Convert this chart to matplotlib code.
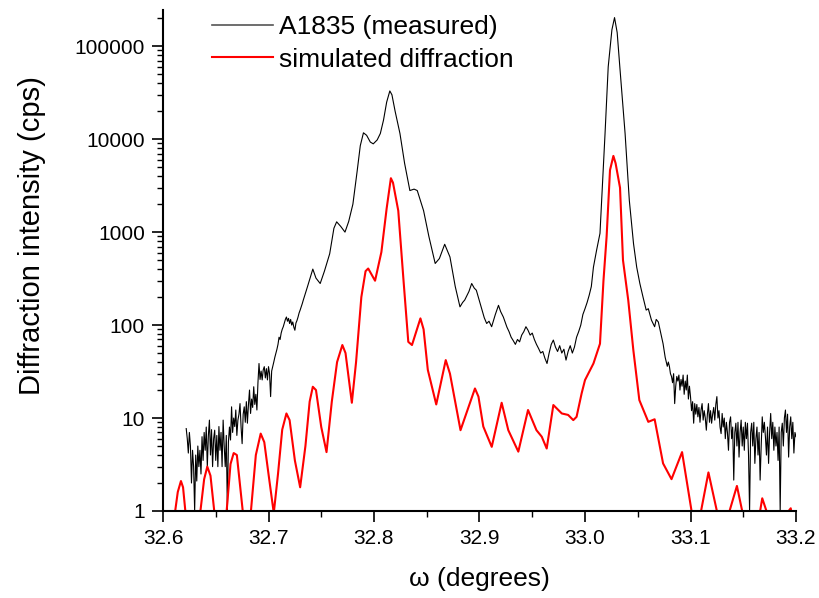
import matplotlib
matplotlib.use("Agg")
import matplotlib.pyplot as plt
from matplotlib.ticker import MultipleLocator, LogLocator, NullFormatter, FixedLocator

plt.rcParams['font.family'] = ['Liberation Sans', 'DejaVu Sans']

# measured curve (A1835), noisy low-angle tail read at ~0.001 degree steps
meas_x_left = [32.622, 32.623, 32.624, 32.625, 32.626, 32.627, 32.628, 32.629, 32.630, 32.631,
               32.632, 32.633, 32.634, 32.635, 32.636, 32.637, 32.638, 32.639, 32.640, 32.641,
               32.642, 32.643, 32.644, 32.645, 32.646, 32.647, 32.648, 32.649, 32.650, 32.651,
               32.652, 32.653, 32.654, 32.655, 32.656, 32.657, 32.658, 32.659, 32.660, 32.661,
               32.662, 32.663, 32.664, 32.665, 32.666, 32.667, 32.668, 32.669, 32.670, 32.671,
               32.672, 32.673, 32.674, 32.675, 32.676, 32.677, 32.678, 32.679, 32.680, 32.681,
               32.682, 32.683, 32.684, 32.685, 32.686, 32.687, 32.688, 32.689, 32.690, 32.691,
               32.692, 32.693, 32.694, 32.695, 32.696, 32.697, 32.698, 32.699, 32.700, 32.701,
               32.702, 32.703, 32.704, 32.705, 32.706, 32.707, 32.708, 32.709, 32.710, 32.711,
               32.712, 32.713, 32.714, 32.715, 32.716, 32.717, 32.718, 32.719, 32.720, 32.721,
               32.722, 32.723, 32.724, 32.725, 32.726, 32.727, 32.728, 32.729, 32.730, 32.731,
               32.732, 32.733]
meas_y_left = [7.7, 6.0, 4.2, 7.0, 5.0, 2.0, 4.5, 3.0, 1.0, 4.0,
               2.1, 5.0, 3.0, 4.5, 2.5, 6.3, 3.5, 7.0, 4.5, 8.0,
               3.0, 6.5, 9.5, 4.0, 7.5, 3.0, 6.0, 7.4, 3.5, 6.5,
               3.0, 8.1, 4.5, 7.0, 3.0, 9.5, 5.0, 3.0, 6.5, 1.0,
               5.5, 8.0, 5.8, 13.2, 7.0, 10.0, 8.1, 12.2, 6.5, 9.5,
               11.0, 14.3, 8.0, 5.3, 11.0, 13.2, 9.0, 15.0, 8.8, 14.0,
               20, 11.2, 16.0, 13.0, 21.7, 14.0, 18.0, 12.2, 24.0, 38.6,
               26.0, 32.0, 25.7, 33.0, 35.7, 27.0, 34.0, 25.7, 35.7, 30.0,
               17.0, 32.0, 35.7, 40.0, 45.0, 49.5, 55.0, 62.0, 74, 70,
               82, 90, 96, 105, 115, 122, 110, 118, 104, 115,
               100, 108, 95, 88, 105, 112, 122, 135, 145, 157,
               170, 186]

# measured curve, Bragg peaks region
meas_x_mid = [32.7370, 32.7420, 32.7450, 32.7490, 32.7530, 32.7580, 32.7620, 32.7646, 32.7685, 32.7725,
              32.7760, 32.7800, 32.7840, 32.7870, 32.7900, 32.7930, 32.7965, 32.7993, 32.8030, 32.8060,
              32.8090, 32.8120, 32.8150, 32.8170, 32.8200, 32.8246, 32.8290, 32.8340, 32.8380, 32.8410,
              32.8470, 32.8520, 32.8580, 32.8620, 32.8670, 32.8720, 32.8770, 32.8815, 32.8840, 32.8860,
              32.8900, 32.8926, 32.8950, 32.8970, 32.9000, 32.9020, 32.9045, 32.9068, 32.9090, 32.9115,
              32.9150, 32.9180, 32.9200, 32.9226, 32.9260, 32.9280,
              32.930, 32.932, 32.934, 32.936, 32.938, 32.940, 32.942, 32.944, 32.946, 32.948,
              32.950, 32.952, 32.954, 32.956, 32.958, 32.960, 32.962, 32.964, 32.966, 32.968,
              32.970, 32.972, 32.974, 32.976, 32.978, 32.980, 32.982, 32.984, 32.986, 32.988,
              32.990, 32.992, 32.994, 32.996, 32.998, 33.000, 33.002, 33.004, 33.006, 33.008,
              33.011, 33.0142, 33.0190, 33.0220, 33.0255, 33.0280, 33.0305, 33.0330, 33.0380, 33.0420,
              33.046, 33.049, 33.052, 33.055, 33.058, 33.060, 33.063, 33.066, 33.0675, 33.0695,
              33.072, 33.074, 33.076, 33.078, 33.079]
meas_y_mid = [260, 400, 320, 280, 380, 585, 1100, 1290, 1150, 1000,
              1300, 2000, 4500, 8500, 11700, 11000, 9300, 8900, 9800, 11500,
              16000, 25000, 33000, 30000, 20000, 11500, 5500, 2800, 2900, 2800,
              1700, 900, 460, 520, 740, 540, 260, 157, 175, 186,
              230, 280, 250, 237, 180, 150, 120, 104, 110, 96,
              130, 163, 140, 122, 95, 85,
              74, 68, 62, 70, 66, 78, 85, 96, 88, 78,
              82, 70, 62, 56, 50, 52, 44, 38.6, 50, 62,
              69, 58, 52, 60, 50, 55, 42, 52, 60, 50,
              58, 74, 85, 100, 130, 150, 175, 210, 260, 420,
              640, 970, 11500, 60000, 150000, 203000, 140000, 60000, 11500, 2200,
              750, 420, 280, 200, 145, 150, 113, 96, 115, 108,
              80, 63, 45, 36, 40]

# measured curve, noisy high-angle tail
meas_x_right = [33.080, 33.081, 33.082, 33.083, 33.084, 33.085, 33.086, 33.087, 33.088, 33.089,
                33.090, 33.091, 33.092, 33.093, 33.094, 33.095, 33.096, 33.097, 33.098, 33.099,
                33.100, 33.101, 33.102, 33.103, 33.104, 33.105, 33.106, 33.107, 33.108, 33.109,
                33.110, 33.111, 33.112, 33.113, 33.114, 33.115, 33.116, 33.117, 33.118, 33.119,
                33.120, 33.121, 33.122, 33.123, 33.124, 33.125, 33.126, 33.127, 33.128, 33.129,
                33.130, 33.131, 33.132, 33.133, 33.134, 33.135, 33.136, 33.137, 33.138, 33.139,
                33.140, 33.141, 33.142, 33.143, 33.144, 33.145, 33.146, 33.147, 33.148, 33.149,
                33.150, 33.151, 33.152, 33.153, 33.154, 33.155, 33.156, 33.157, 33.158, 33.159,
                33.160, 33.161, 33.162, 33.163, 33.164, 33.165, 33.166, 33.167, 33.168, 33.169,
                33.170, 33.171, 33.172, 33.173, 33.174, 33.175, 33.176, 33.177, 33.178, 33.179,
                33.180, 33.181, 33.182, 33.183, 33.184, 33.185, 33.186, 33.187, 33.188, 33.189,
                33.190, 33.191, 33.192, 33.193, 33.194, 33.195, 33.196, 33.197, 33.198, 33.199,
                33.200]
meas_y_right = [36, 30, 28, 24, 30, 14.3, 22, 28, 25, 29,
                20, 26, 22, 29, 18, 25, 20, 29, 16, 22,
                17, 12, 15, 8.8, 14.3, 11, 14, 10.3, 13, 9,
                12.2, 14.3, 9.5, 12, 10, 7.4, 11, 14.3, 9, 12,
                8.8, 11, 13, 9.5, 14, 17, 10, 12, 8, 6.8,
                11.2, 8, 10, 6, 9, 7, 4.5, 9, 10.3, 6,
                8, 2.15, 7, 8.8, 5, 9, 3.8, 7, 9.5, 5,
                8, 4.5, 9, 6, 8.8, 4, 1.0, 7, 8.8, 5,
                9, 3.25, 6, 8, 4, 7, 2.15, 5, 10.3, 7,
                9, 6.3, 4, 8, 3.25, 7, 11.2, 6, 9, 4.5,
                8, 5, 7, 3.5, 8, 1.0, 7, 8.8, 5, 10,
                12.2, 7, 11, 3.8, 8, 10.3, 6, 9, 4.2, 7,
                6.3]

# simulated diffraction
sim_x = [32.6110, 32.6140, 32.6170, 32.6190, 32.6220, 32.6280, 32.6350, 32.6390, 32.6420, 32.6450,
         32.6490, 32.6550, 32.6600, 32.6640, 32.6670, 32.6700, 32.6760, 32.6800, 32.6830, 32.6880,
         32.6926, 32.6960, 32.7000, 32.7050, 32.7090, 32.7130, 32.7170, 32.7200, 32.7250, 32.7300,
         32.7350, 32.7390, 32.7420, 32.7450, 32.7500, 32.7550, 32.7600, 32.7650, 32.7700, 32.7730,
         32.7790, 32.7830, 32.7880, 32.7920, 32.7945, 32.8010, 32.8070, 32.8120, 32.8160, 32.8180,
         32.8230, 32.8280, 32.8325, 32.8360, 32.8440, 32.8470, 32.8510, 32.8590, 32.8680, 32.8720,
         32.8820, 32.8957, 32.8990, 32.9036, 32.9116, 32.9210, 32.9273, 32.9368, 32.9460, 32.9540,
         32.9590, 32.9637, 32.9700, 32.9780, 32.9840, 32.9889, 32.9920, 32.9968, 33.0000, 33.0080,
         33.0142, 33.0175, 33.0205, 33.0237, 33.0269, 33.0290, 33.0332, 33.0360, 33.0410, 33.0458,
         33.0515, 33.0600, 33.0660, 33.0740, 33.0820, 33.0920, 33.1010, 33.1040, 33.1100, 33.1170,
         33.1250, 33.1300, 33.1370, 33.1440, 33.1490, 33.1560, 33.1660, 33.1680, 33.1720, 33.1800,
         33.1930, 33.1950, 33.1970]
sim_y = [0.9, 1.6, 2.1, 1.8, 0.8, 0.3, 0.9, 2.2, 3.0, 2.4,
         0.9, 0.3, 0.9, 3.2, 4.2, 4.0, 0.9, 0.4, 0.9, 4.0,
         6.8, 5.5, 2.5, 0.95, 2.5, 7.5, 11.2, 9.5, 3.5, 1.8,
         5.0, 15, 21.7, 20, 8, 4.3, 15, 40, 61, 50,
         14.6, 40, 200, 380, 406, 300, 610, 1800, 3800, 3400,
         1700, 300, 66, 61, 118, 90, 33, 14, 42, 30,
         7.4, 20.8, 17, 8.1, 4.9, 14.6, 7.4, 4.35, 12.2, 7.4,
         6.3, 4.7, 13.8, 11.2, 10.8, 9.5, 10.3, 18.4, 25.6, 38.6,
         63, 300, 900, 4640, 6600, 5500, 3000, 500, 185, 54,
         15.6, 9.1, 9.7, 3.25, 2.2, 4.3, 1.0, 0.5, 1.0, 2.6,
         1.0, 0.5, 1.0, 1.86, 1.0, 0.5, 1.0, 1.37, 1.0, 0.5,
         1.0, 1.07, 0.8]

x_ticks = [32.6, 32.7, 32.8, 32.9, 33.0, 33.1, 33.2]
y_ticks = [1, 10, 100, 1000, 10000, 100000]
y_tick_labels = ['1', '10', '100', '1000', '10000', '100000']

meas_x = meas_x_left + meas_x_mid + meas_x_right
meas_y = meas_y_left + meas_y_mid + meas_y_right

fig = plt.figure(figsize=(8.2, 5.98), dpi=100)
ax = fig.add_axes([163/820, 1 - 511/598, 633/820, 501/598])

ax.plot(meas_x, meas_y, color='black', lw=0.8, label='A1835 (measured)')
ax.plot(sim_x, sim_y, color='#ff0000', lw=1.5, label='simulated diffraction')

ax.set_yscale('log')
ax.set_xlim(32.6, 33.2)
ax.set_ylim(1, 2.45e5)

ax.set_xticks(x_ticks)
ax.set_xticklabels([f'{v:.1f}' for v in x_ticks])
ax.xaxis.set_minor_locator(MultipleLocator(0.05))
ax.yaxis.set_major_locator(FixedLocator(y_ticks))
ax.set_yticklabels(y_tick_labels)
ax.yaxis.set_minor_locator(LogLocator(base=10, subs=range(2, 10)))
ax.yaxis.set_minor_formatter(NullFormatter())

for s in ['top', 'right']:
    ax.spines[s].set_visible(False)
for s in ['left', 'bottom']:
    ax.spines[s].set_linewidth(1.5)

ax.tick_params(axis='both', which='major', direction='out', length=8, width=1.2,
               labelsize=15, pad=5)
ax.tick_params(axis='both', which='minor', direction='out', length=4, width=1.0)

ax.set_ylabel('Diffraction intensity (cps)', fontsize=21)
ax.set_xlabel('ω (degrees)', fontsize=19)
ax.yaxis.set_label_coords(-0.185, 0.55)
ax.xaxis.set_label_coords(0.5, -0.112)

leg = ax.legend(loc='upper left', bbox_to_anchor=(0.0774, 0.99), frameon=False,
                fontsize=19, handlelength=2.3, handletextpad=0.24, labelspacing=0.33,
                borderaxespad=0, borderpad=0)
leg.get_lines()[0].set_color('#555555')
leg.get_lines()[0].set_linewidth(1.2)
leg.get_lines()[1].set_linewidth(1.5)

fig.savefig('out.png', dpi=100)
